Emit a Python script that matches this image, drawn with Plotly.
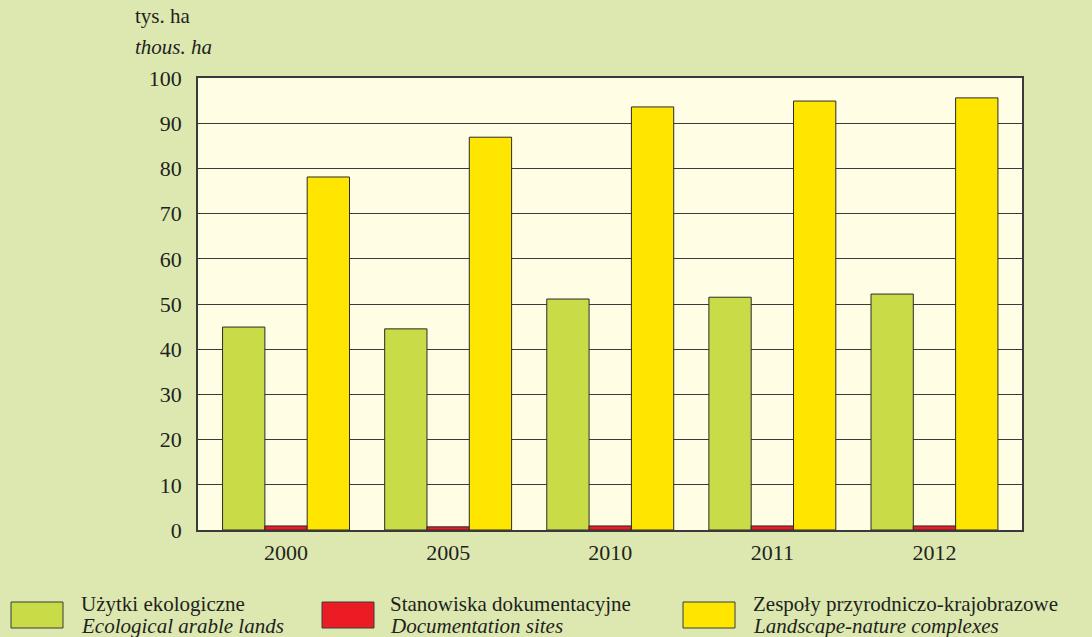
import plotly.graph_objects as go

# Area of protected forms of nature, thousand hectares
years = ["2000", "2005", "2010", "2011", "2012"]
ecological_lands = [44.9, 44.5, 51.1, 51.5, 52.2]
documentation_sites = [0.9, 0.7, 0.9, 0.9, 0.9]
landscape_complexes = [78.1, 86.9, 93.6, 94.9, 95.6]

series_pl = ["Użytki ekologiczne", "Stanowiska dokumentacyjne", "Zespoły przyrodniczo-krajobrazowe"]
series_en = ["Ecological arable lands", "Documentation sites", "Landscape-nature complexes"]
colors = ["#C9DB46", "#EC1C24", "#FFE600"]

y_ticks = list(range(0, 101, 10))

FONT = "Liberation Serif, Times New Roman, serif"
TEXT = "#231F20"

W, H = 1092, 637
L, R, T, B = 198, 70, 78, 107
PW, PH = W - L - R, H - T - B


def px(x):
    return (x - L) / PW


def py(y):
    return 1 + (T - y) / PH


fig = go.Figure()
for vals, name, col in zip([ecological_lands, documentation_sites, landscape_complexes], series_pl, colors):
    fig.add_trace(go.Bar(
        x=years, y=vals, name=name,
        marker=dict(color=col, line=dict(color="#2b2b2b", width=1)),
        showlegend=False,
    ))

fig.update_layout(
    width=W, height=H,
    margin=dict(l=L, r=R, t=T, b=B),
    paper_bgcolor="#DCE8B0",
    plot_bgcolor="#FFFDE4",
    barmode="group",
    bargap=0.217,
    bargroupgap=0,
    font=dict(family=FONT, size=22, color=TEXT),
    xaxis=dict(
        type="category",
        range=[-0.543, 4.54],
        showgrid=False,
        showline=True, linecolor="#3a3a3a", linewidth=1.5, mirror=True,
        ticks="", ticklabelstandoff=2,
        tickfont=dict(size=22, family=FONT, color=TEXT),
    ),
    yaxis=dict(
        range=[0, 100],
        tickvals=y_ticks,
        showgrid=True, gridcolor="#3a3a3a", gridwidth=1,
        zeroline=False,
        showline=True, linecolor="#3a3a3a", linewidth=1.5, mirror=True,
        ticks="", ticklabelstandoff=10,
        tickfont=dict(size=22, family=FONT, color=TEXT),
    ),
)

# Unit labels above the value axis
fig.add_annotation(text="tys. ha", xref="paper", yref="paper", x=px(133), y=py(16),
                   xanchor="left", yanchor="middle", showarrow=False,
                   font=dict(size=21, family=FONT, color=TEXT))
fig.add_annotation(text="<i>thous. ha</i>", xref="paper", yref="paper", x=px(133), y=py(47),
                   xanchor="left", yanchor="middle", showarrow=False,
                   font=dict(size=21, family=FONT, color=TEXT))

# Legend built from swatches and bilingual labels
swatch_x = [(11, 63), (322, 374), (683, 735)]
text_x = [79, 388, 751]
for (x0, x1), tx, col, pl, en in zip(swatch_x, text_x, colors, series_pl, series_en):
    fig.add_shape(type="rect", xref="paper", yref="paper",
                  x0=px(x0), x1=px(x1), y0=py(628), y1=py(602),
                  fillcolor=col, line=dict(color="#3a3a3a", width=1))
    fig.add_annotation(text=pl, xref="paper", yref="paper",
                       x=px(tx), y=py(604),
                       xanchor="left", yanchor="middle", showarrow=False,
                       font=dict(size=21, family=FONT, color=TEXT))
    fig.add_annotation(text="<i>" + en + "</i>", xref="paper", yref="paper",
                       x=px(tx), y=py(626),
                       xanchor="left", yanchor="middle", showarrow=False,
                       font=dict(size=21, family=FONT, color=TEXT))

fig.write_html("out.html")
